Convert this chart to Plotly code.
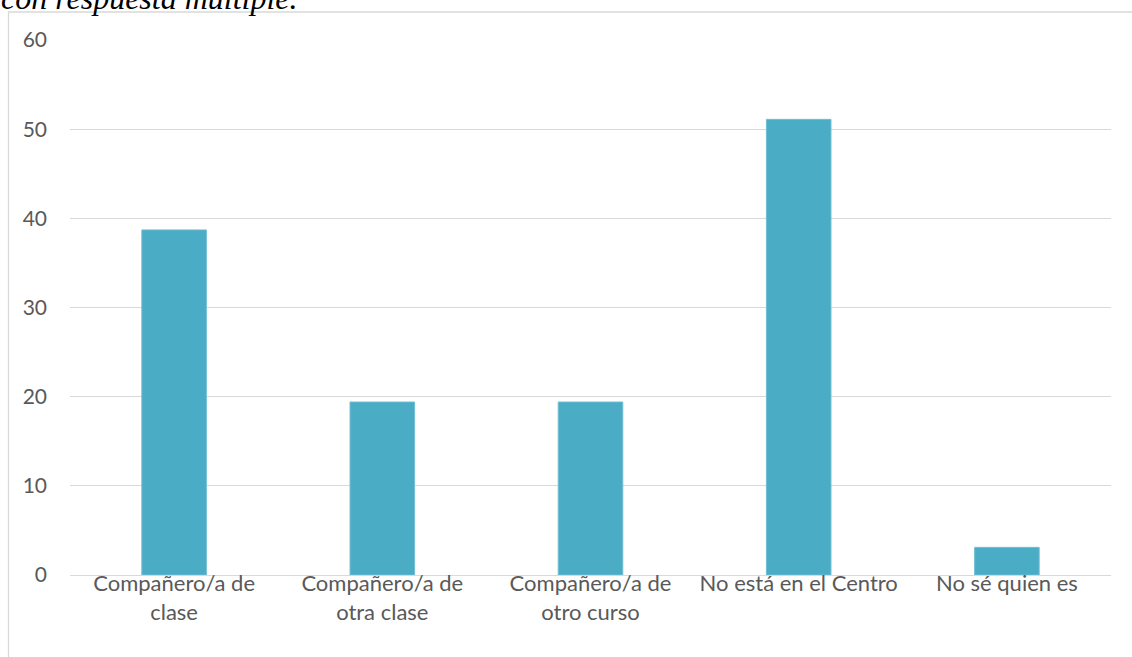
import plotly.graph_objects as go

categories = ["Compañero/a de<br>clase", "Compañero/a de<br>otra clase",
              "Compañero/a de<br>otro curso", "No está en el Centro", "No sé quien es"]
values = [38.7, 19.4, 19.4, 51.1, 3.1]
y_ticks = [0, 10, 20, 30, 40, 50, 60]
caption = "con respuesta múltiple."

fig = go.Figure()
fig.add_trace(go.Bar(x=categories, y=values, marker=dict(color="#4BACC6",
                     line=dict(color="#6fbdd2", width=1))))

W, H = 1132, 657
ml, mr, mt, mb = 70, 21, 40, 82
pw = W - ml - mr
ph = H - mt - mb

def px_x(p):
    return (p - ml) / pw

def px_y(p):
    return (H - mb - p) / ph

fig.update_layout(
    width=W, height=H,
    margin=dict(l=ml, r=mr, t=mt, b=mb, pad=0),
    paper_bgcolor="white", plot_bgcolor="white",
    bargap=0.69,
    showlegend=False,
    font=dict(family="Lato, Carlito, sans-serif", size=22, color="#595959"),
    xaxis=dict(showgrid=False, showline=False, zeroline=False, ticks="",
               ticklabelstandoff=-7,
               tickfont=dict(size=22, color="#595959")),
    yaxis=dict(range=[0, 60], tickvals=y_ticks, showgrid=True, gridcolor="#d9d9d9",
               gridwidth=1.3, zeroline=True, zerolinecolor="#d9d9d9", zerolinewidth=1.3,
               showline=False, ticks="", ticklabelstandoff=22,
               tickfont=dict(size=21, color="#595959")),
    shapes=[dict(type="rect", xref="paper", yref="paper",
                 x0=px_x(8.5), x1=px_x(1200), y0=px_y(700), y1=px_y(12),
                 line=dict(color="#d9d9d9", width=1.3), fillcolor="rgba(0,0,0,0)", layer="below")],
    annotations=[dict(text=caption, xref="paper", yref="paper",
                      x=px_x(-1), y=px_y(18), xanchor="left", yanchor="bottom",
                      showarrow=False,
                      font=dict(family="Liberation Serif, serif", size=32, color="#000000",
                                style="italic"))],
)

fig.write_html("out.html", config={"displayModeBar": False},
               post_script="document.body.style.margin='0';document.body.style.overflow='hidden';")
